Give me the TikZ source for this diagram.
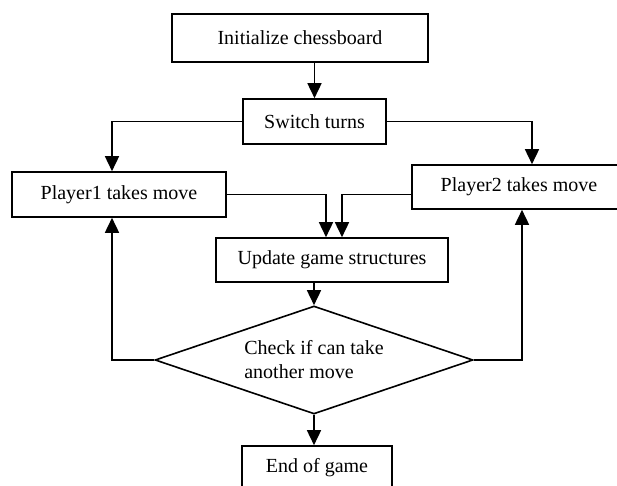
\documentclass[tikz,border=0pt]{standalone}
\usepackage{fontspec}
\setmainfont{Liberation Serif}
\usetikzlibrary{arrows.meta,shapes.geometric}

\begin{document}
\begin{tikzpicture}[x=0.5pt,y=-0.5pt,line width=0.8pt,
  box/.style={draw,rectangle,inner sep=0pt,minimum height=22.5pt},
  decide/.style={draw,diamond,aspect=2.94,inner sep=0pt,minimum width=159pt,minimum height=54pt,align=left},
  arr/.style={-{Triangle[length=7.5pt,width=7pt]}}]
\useasboundingbox (0,0) rectangle (617,486);

% Boxes
\node[box,minimum width=128pt,minimum height=24pt] (init) at (300,38) {Initialize chessboard};
\node[box,minimum width=71.5pt] (switch) at (314.5,121.5) {Switch turns};
\node[box,minimum width=107pt] (p1) at (119,194.5) {Player1 takes move};
\node[box,minimum width=107pt,minimum height=22pt] (p2) at (519,187) {Player2 takes move};
\node[box,minimum width=116pt,minimum height=22pt] (update) at (332,260) {Update game structures};
\node[decide] (check) at (314,360) {Check if can take\\another move};
\node[box,minimum width=75pt,minimum height=22pt] (end) at (317,468) {End of game};

% Arrows
\draw[arr] (init.south -| switch.north) -- (switch.north);
\draw[arr] (switch.west) -| ([xshift=-3.5pt]p1.north);
\draw[arr] (switch.east) -| ([xshift=6.5pt]p2.north);
\draw[arr] (p1.east) -| ([xshift=-3pt]update.north);
\draw[arr] (p2.west |- p1.east) -| ([xshift=5pt]update.north);
\draw[arr] (update.south -| check.north) -- (check.north);
\draw[arr] (check.west) -| ([xshift=-3.5pt]p1.south);
\draw[arr] (check.east) -| ([xshift=1.5pt]p2.south);
\draw[arr] (check.south) -- (end.north -| check.south);
\end{tikzpicture}
\end{document}
